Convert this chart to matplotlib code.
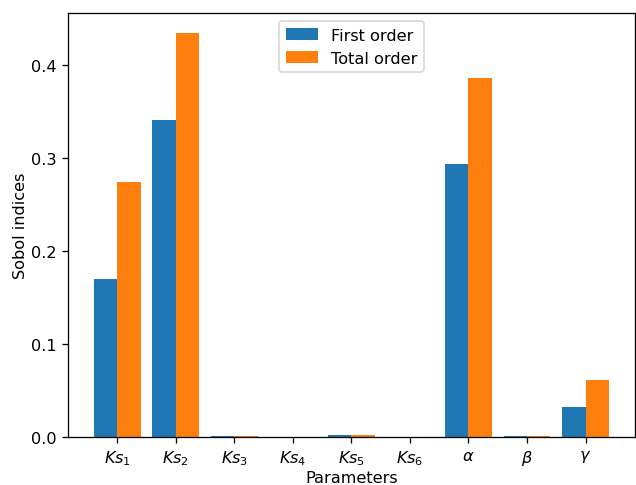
import matplotlib
matplotlib.use("Agg")
import matplotlib.pyplot as plt
import numpy as np

params = [r'$Ks_1$', r'$Ks_2$', r'$Ks_3$', r'$Ks_4$', r'$Ks_5$', r'$Ks_6$',
          r'$\alpha$', r'$\beta$', r'$\gamma$']
first_order = [0.170, 0.341, 0.0006, 0.0, 0.0016, 0.0, 0.294, 0.0008, 0.032]
total_order = [0.274, 0.4345, 0.0005, 0.0, 0.0015, 0.0, 0.386, 0.0012, 0.0615]

x = np.arange(len(params))
w = 0.4

dpi = 116
fig = plt.figure(figsize=(636 / dpi, 486 / dpi), dpi=dpi)
ax = fig.add_subplot(111)
fig.subplots_adjust(left=0.107, right=0.998, top=0.971, bottom=0.099)

ax.bar(x - w / 2, first_order, w, label='First order')
ax.bar(x + w / 2, total_order, w, label='Total order')

ax.set_xticks(x)
ax.set_xticklabels(params)
ax.set_xlabel('Parameters', labelpad=1.5)
ax.set_ylabel('Sobol indices', labelpad=2)
ax.legend(loc='upper center')

fig.savefig('out.png', dpi=dpi)
